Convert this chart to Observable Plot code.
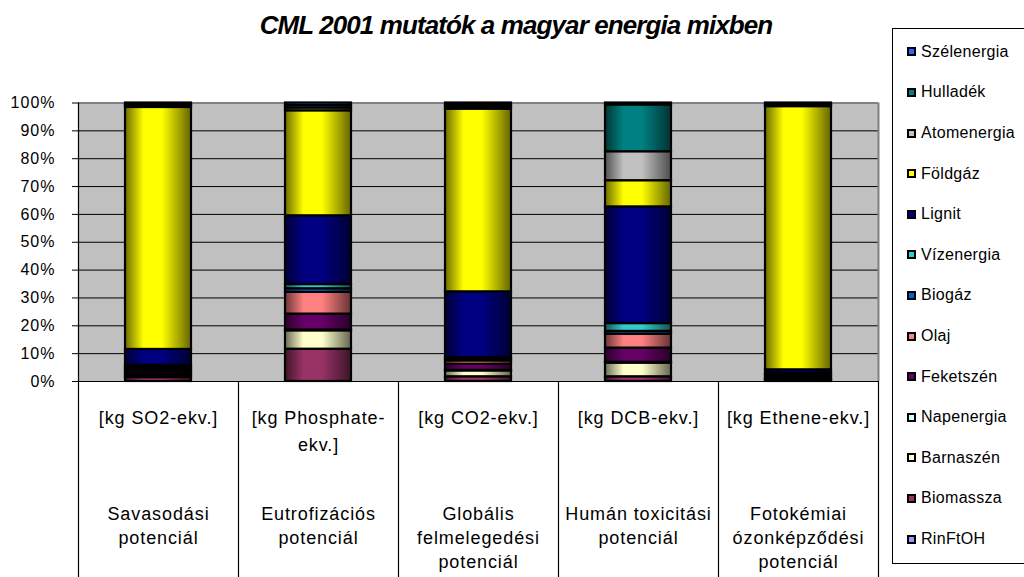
<!DOCTYPE html>
<html><head><meta charset="utf-8">
<script src="https://cdn.jsdelivr.net/npm/d3@7"></script>
<script src="https://cdn.jsdelivr.net/npm/@observablehq/plot@0.6"></script>
<style>
html,body{margin:0;padding:0;background:#fff;}
body{width:1024px;height:577px;position:relative;overflow:hidden;font-family:"Liberation Sans",Arial,sans-serif;color:#000;}
#title{height:50px;line-height:50px;text-align:center;font-size:26px;font-weight:bold;font-style:italic;letter-spacing:-0.9px;padding-left:8px;box-sizing:border-box;white-space:nowrap;}
#chart svg{display:block;}
#legend{position:absolute;left:892px;top:28px;width:150px;height:536px;border:1.5px solid #000;box-sizing:border-box;background:#fff;}
.item{position:absolute;left:14px;height:20px;display:flex;align-items:center;font-size:16px;letter-spacing:0.3px;white-space:nowrap;}
.sw{width:5px;height:5px;border:2px solid #000;margin-right:5px;flex:none;}
g[aria-label="y-axis tick label"] text{letter-spacing:1px;}
g[aria-label="text"] text{letter-spacing:0.9px;}
</style></head>
<body>
<div id="title">CML 2001 mutatók a magyar energia mixben</div>
<div id="chart"></div>
<div id="legend"></div>
<script>
// Categories and their labels
const categories = ["Savasodási potenciál", "Eutrofizációs potenciál", "Globális felmelegedési potenciál", "Humán toxicitási potenciál", "Fotokémiai ózonképződési potenciál"];
const unitLabels = ["[kg SO2-ekv.]", "[kg Phosphate-\nekv.]", "[kg CO2-ekv.]", "[kg DCB-ekv.]", "[kg Ethene-ekv.]"];
const nameLabels = ["Savasodási\npotenciál", "Eutrofizációs\npotenciál", "Globális\nfelmelegedési\npotenciál", "Humán toxicitási\npotenciál", "Fotokémiai\nózonképződési\npotenciál"];

// Series values (% share), stacked bottom -> top
const RinFtOH     = [0, 0, 0, 0, 0];
const Biomassza   = [1.4, 11.6, 1.7, 1.7, 0.3];
const Barnaszen   = [0.7, 6.6, 2.1, 4.9, 0.3];
const Napenergia  = [0.5, 0.3, 0.2, 0.3, 0.1];
const Feketszen   = [0.9, 5.7, 2.2, 5.1, 0.5];
const Olaj        = [0.8, 7.8, 1.2, 5.0, 0.8];
const Biogaz      = [0.7, 1.3, 0.6, 1.0, 0.5];
const Vizenergia  = [0.8, 1.5, 0.6, 2.8, 0.5];
const Lignit      = [5.7, 24.7, 23.6, 41.9, 1.2];
const Foldgaz     = [86.8, 37.7, 65.6, 9.4, 94.5];
const Atomenergia = [0.6, 1.0, 0.8, 10.4, 0.5];
const Hulladek    = [0.5, 0.9, 0.7, 16.8, 0.4];
const Szelenergia = [0.5, 0.9, 0.7, 0.7, 0.4];

const seriesNames = ["RinFtOH", "Biomassza", "Barnaszén", "Napenergia", "Feketszén", "Olaj", "Biogáz", "Vízenergia", "Lignit", "Földgáz", "Atomenergia", "Hulladék", "Szélenergia"];
const seriesValues = [RinFtOH, Biomassza, Barnaszen, Napenergia, Feketszen, Olaj, Biogaz, Vizenergia, Lignit, Foldgaz, Atomenergia, Hulladek, Szelenergia];
const seriesColors = ["#9999FF", "#993366", "#FFFFCC", "#CCFFFF", "#660066", "#FF8080", "#0066CC", "#33CCCC", "#000080", "#FFFF00", "#C0C0C0", "#008080", "#3366FF"];

const yTicks = [0, 0.1, 0.2, 0.3, 0.4, 0.5, 0.6, 0.7, 0.8, 0.9, 1];
const gridTicks = yTicks.slice(1, -1);

const tidy = categories.flatMap((cat, ci) => seriesNames.map((name, si) => ({cat, name, si, value: seriesValues[si][ci]})));

const last = categories[categories.length - 1];
const svg = Plot.plot({
  width: 1024, height: 527,
  marginTop: 52.5, marginBottom: 196, marginLeft: 78, marginRight: 146,
  style: {fontFamily: "'Liberation Sans', Arial, sans-serif", fontSize: "16px", color: "#000", background: "transparent", overflow: "visible"},
  x: {domain: categories, padding: 0, axis: null},
  y: {domain: [0, 1], axis: null},
  marks: [
    Plot.frame({fill: "#c0c0c0", stroke: "none"}),
    Plot.ruleY(gridTicks, {stroke: "#000", strokeWidth: 1}),
    Plot.ruleY([1], {stroke: "#808080", strokeWidth: 2}),
    Plot.ruleX([last], {dx: 80, y1: 0, y2: 1, stroke: "#808080", strokeWidth: 2}),
    Plot.barY(tidy, Plot.stackY({x: "cat", y: "value", offset: "normalize", fill: d => `url(#grad${d.si})`, stroke: "#000", strokeWidth: 2.2, insetLeft: 47, insetRight: 47})),
    Plot.axisY({ticks: yTicks, tickFormat: d3.format(".0%"), tickSize: 6, tickPadding: 17, fontSize: 16, stroke: "#000", label: null}),
    Plot.ruleX([categories[0]], {dx: -80, y1: -0.72, y2: 1, stroke: "#000", strokeWidth: 1.2}),
    Plot.ruleX(categories.slice(1), {dx: -80, y1: -0.72, y2: 0, stroke: "#000", strokeWidth: 1.2}),
    Plot.ruleX([last], {dx: 80, y1: -0.72, y2: 0, stroke: "#000", strokeWidth: 1.2}),
    Plot.ruleY([0], {stroke: "#000", strokeWidth: 1.2}),
    Plot.text(unitLabels, {x: (d, i) => categories[i], text: d => d, frameAnchor: "bottom", lineAnchor: "top", dy: 23, fontSize: 18, lineHeight: 1.5, fill: "#000"}),
    Plot.text(nameLabels, {x: (d, i) => categories[i], text: d => d, frameAnchor: "bottom", lineAnchor: "top", dy: 122, fontSize: 18, lineHeight: 1.33, fill: "#000"})
  ]
});

// Gradients (Excel-like cylinder shading)
const ns = "http://www.w3.org/2000/svg";
const defs = document.createElementNS(ns, "defs");
seriesColors.forEach((c, i) => {
  const g = document.createElementNS(ns, "linearGradient");
  g.setAttribute("id", "grad" + i);
  g.setAttribute("x1", "0"); g.setAttribute("x2", "1"); g.setAttribute("y1", "0"); g.setAttribute("y2", "0");
  const base = d3.rgb(c);
  const dark = k => d3.rgb(base.r * k, base.g * k, base.b * k).formatHex();
  [[0, dark(0.42)], [0.28, base.formatHex()], [0.56, base.formatHex()], [1, dark(0.4)]].forEach(([o, col]) => {
    const s = document.createElementNS(ns, "stop");
    s.setAttribute("offset", o); s.setAttribute("stop-color", col);
    g.appendChild(s);
  });
  defs.appendChild(g);
});
svg.insertBefore(defs, svg.firstChild);
document.getElementById("chart").appendChild(svg);

// Legend (top -> bottom is reverse of stacking order)
const legend = document.getElementById("legend");
seriesNames.slice().reverse().forEach((name, k) => {
  const si = seriesNames.indexOf(name);
  const row = document.createElement("div");
  row.className = "item";
  row.style.top = (12.8 + k * 40.6) + "px";
  const sw = document.createElement("span");
  sw.className = "sw";
  sw.style.background = seriesColors[si];
  row.appendChild(sw);
  row.appendChild(document.createTextNode(name));
  legend.appendChild(row);
});
</script>
</body></html>
